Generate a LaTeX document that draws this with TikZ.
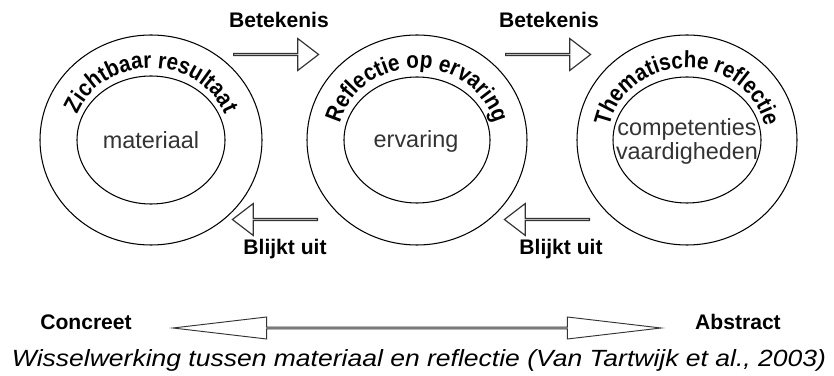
\documentclass[tikz,border=0pt]{standalone}
\usepackage{fontspec}
\setmainfont{Liberation Sans}
\newfontfamily\arcfam[FakeStretch=0.88]{Liberation Sans}
\usetikzlibrary{shapes.arrows,decorations.text}

\newcommand{\arcfont}{\arcfam\bfseries\fontsize{20}{24}\selectfont}

\begin{document}
\begin{tikzpicture}[x=0.03cm,y=0.03cm,
  ring/.style={line width=0.9pt},
  tag/.style={font=\bfseries\fontsize{18}{21}\selectfont,inner sep=0pt},
  midtext/.style={font=\fontsize{20}{21.3}\selectfont,text=black!80,inner sep=0pt,align=center},
  blockarrow/.style={single arrow,draw=black!80,line width=1pt,inner sep=0pt,
    minimum height=2.55cm,minimum width=0.96cm,
    single arrow head extend=0.255cm,single arrow tip angle=75},
  arctext/.style={decorate,decoration={text along path,text align=center,text={|\arcfont|#1}}}]
\useasboundingbox (0,0) rectangle (834,-376);
% the three rings
\coordinate (c1) at (151,-140);
\coordinate (c2) at (417,-140);
\coordinate (c3) at (687,-140);
\draw[ring] (c1) ellipse [x radius=111, y radius=105];
\draw[ring] (c1) ellipse [x radius=74, y radius=64];
\draw[ring] (c2) ellipse [x radius=110, y radius=105];
\draw[ring] (c2) ellipse [x radius=73, y radius=63];
\draw[ring] (c3) ellipse [x radius=110, y radius=105];
\draw[ring] (c3) ellipse [x radius=74, y radius=63];
% curved titles
\path[arctext={Zichtbaar resultaat}] (c1) ++(178:79 and 72) arc[start angle=178, end angle=2, x radius=79, y radius=72];
\path[arctext={Reflectie op ervaring}] (c2) ++(178:79 and 72) arc[start angle=178, end angle=2, x radius=79, y radius=72];
\path[arctext={Thematische reflectie}] (c3) ++(178:79 and 72) arc[start angle=178, end angle=2, x radius=79, y radius=72];
% inner words
\node[midtext] (mat) at (151,-140.5) {materiaal};
\node[midtext,anchor=base] (erv) at (416,-148) {ervaring};
\node[midtext,anchor=base] (comp) at (687,-160) {competenties\\vaardigheden};
% arrows between the rings
\node[blockarrow,anchor=tail] (ar1) at (233,-54.5) {};
\node[blockarrow,anchor=tail] (ar2) at (505,-54.5) {};
\node[blockarrow,shape border rotate=180,anchor=tail] (al1) at (318,-219.5) {};
\node[blockarrow,shape border rotate=180,anchor=tail] (al2) at (590,-219.5) {};
\node[tag,anchor=base] (bet1) at (279,-28) {Betekenis};
\node[tag,anchor=base] (bet2) at (549,-28) {Betekenis};
\node[tag,anchor=base] (bli1) at (285,-255) {Blijkt uit};
\node[tag,anchor=base] (bli2) at (561,-255) {Blijkt uit};
% concreet - abstract
\node[tag,anchor=base] (conc) at (86,-330) {Concreet};
\node[tag,anchor=base] (abst) at (738,-330) {Abstract};
\node[double arrow,draw=black!80,line width=0.8pt,inner sep=0pt,
  minimum height=14.64cm,minimum width=0.66cm,
  double arrow head extend=0.18cm,double arrow tip angle=13.4] (axis) at (417,-328) {};
\node[anchor=base,inner sep=0pt] (cap) at (419,-367)
  {\resizebox{24.42cm}{\height}{\fontsize{20}{23}\selectfont\itshape Wisselwerking tussen materiaal en reflectie (Van Tartwijk et al., 2003)}};
\end{tikzpicture}
\end{document}
